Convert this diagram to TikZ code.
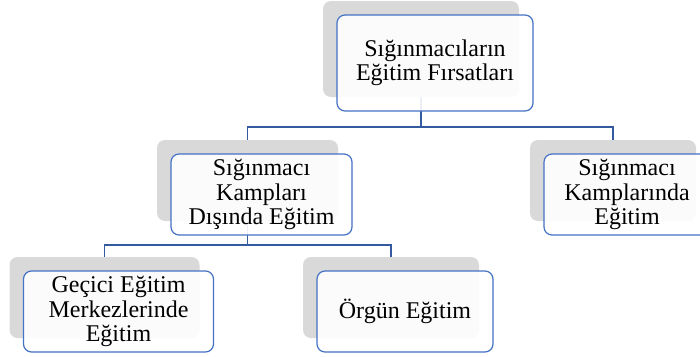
\documentclass[tikz,border=0pt]{standalone}
\usepackage{fontspec}
\setmainfont{Liberation Serif}
\usepackage{xcolor}
\usepackage{tikz}
\usetikzlibrary{positioning, backgrounds}

\definecolor{shadegray}{RGB}{217,217,217}
\definecolor{cardblue}{RGB}{68,114,196}
\definecolor{linkblue}{RGB}{52,90,160}

\begin{document}
\begin{tikzpicture}[
    x=1pt, y=-1pt,
    shade/.style={rectangle, rounded corners=8pt, fill=shadegray, draw=none},
    card/.style={rectangle, draw=cardblue, line width=1.2pt, rounded corners=8pt, fill=white, fill opacity=0.9, text opacity=1, align=center, inner sep=2pt, font=\fontsize{24}{24.5}\selectfont},
    link/.style={draw=linkblue, line width=1.5pt},
]
\useasboundingbox (0,0) rectangle (700,356);

% Gray back shapes (connectors attach to these)
\node[shade, minimum width=196pt, minimum height=96pt] (root) at (421,49) {};
\node[shade, minimum width=181pt, minimum height=81pt] (outside) at (247.5,180.5) {};
\node[shade, minimum width=166pt, minimum height=81pt] (inside) at (613,180.5) {};
\node[shade, minimum width=190pt, minimum height=81pt] (temporary) at (104.5,297.5) {};
\node[shade, minimum width=176pt, minimum height=81pt] (formal) at (391,297.5) {};

% Front cards with the texts
\node[card, minimum width=196pt, minimum height=96pt] (rootcard) at (435,63)
  {Sığınmacıların\\Eğitim Fırsatları};
\node[card, minimum width=181pt, minimum height=81pt] (outsidecard) at (261.5,194.5)
  {Sığınmacı\\Kampları\\Dışında Eğitim};
\node[card, minimum width=166pt, minimum height=81pt] (insidecard) at (627,194.5)
  {Sığınmacı\\Kamplarında\\Eğitim};
\node[card, minimum width=190pt, minimum height=81pt] (temporarycard) at (118.5,311.5)
  {Geçici Eğitim\\Merkezlerinde\\Eğitim};
\node[card, minimum width=176pt, minimum height=81pt] (formalcard) at (405,311.5)
  {Örgün Eğitim};

% Connectors, behind everything
\begin{scope}[on background layer]
\draw[link] (root.south) -- ++(0,30) -| (outside.north);
\draw[link] (root.south) -- ++(0,30) -| (inside.north);
\draw[link] (outside.south) -- ++(0,24) -| (temporary.north);
\draw[link] (outside.south) -- ++(0,24) -| (formal.north);
\end{scope}
\end{tikzpicture}
\end{document}
